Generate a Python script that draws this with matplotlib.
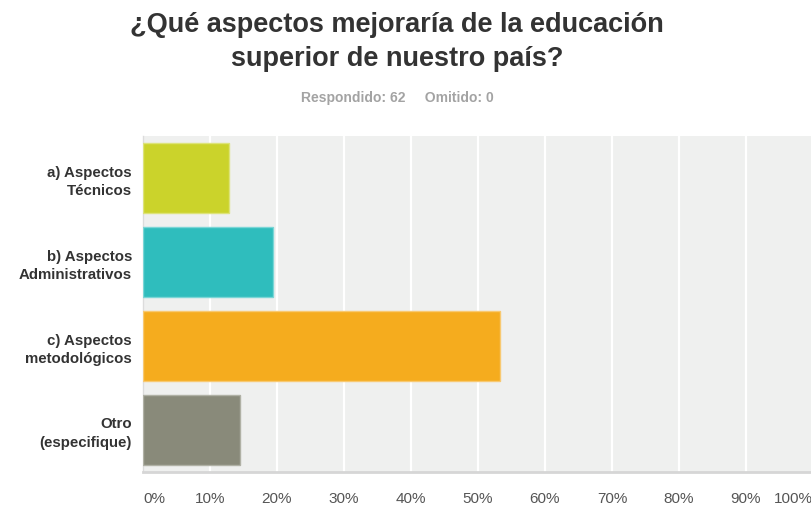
import matplotlib
matplotlib.use("Agg")
import matplotlib.pyplot as plt

categories = ["a) Aspectos\nTécnicos", "b) Aspectos\nAdministrativos",
              "c) Aspectos\nmetodológicos", "Otro\n(especifique)"]
values = [12.90, 19.35, 53.23, 14.52]
colors = ["#cbd32b", "#2fbdbd", "#f5ac1e", "#898a7a"]
edge_colors = ["#dde37a", "#7ad6d6", "#f8c971", "#b0b1a5"]
ticks = [0, 10, 20, 30, 40, 50, 60, 70, 80, 90, 100]
tick_labels = [f"{t}%" for t in ticks]
title = "¿Qué aspectos mejoraría de la educación\nsuperior de nuestro país?"
subtitle = "Respondido: 62     Omitido: 0"

plt.rcParams['font.family'] = ['Liberation Sans', 'DejaVu Sans']

fig = plt.figure(figsize=(8.12, 5.08), dpi=100)
ax = fig.add_axes([143/812, 1-472/508, 670/812, 336/508])
ax.set_facecolor("#eff0ef")

y = list(range(len(categories)))
ax.barh(y, values, height=0.833, color=colors, edgecolor=edge_colors, linewidth=1, zorder=3)
ax.set_xlim(0, 100)
ax.set_ylim(3.5, -0.5)

ax.set_xticks(ticks)
ax.set_xticklabels(tick_labels, fontsize=11, color="#555555")
xl = ax.get_xticklabels()
xl[0].set_horizontalalignment("left")
xl[-1].set_horizontalalignment("right")
ax.set_yticks(y)
ax.set_yticklabels(categories, fontsize=10.8, fontweight="bold", color="#333333",
                   linespacing=1.4)
ax.tick_params(axis="x", length=0, pad=14.5)
ax.tick_params(axis="y", length=0, pad=8)

ax.grid(axis="x", color="white", linewidth=1.6, zorder=1)
ax.set_axisbelow(True)
for s in ["top", "right"]:
    ax.spines[s].set_visible(False)
ax.spines["left"].set_color("#dcdcdc")
ax.spines["left"].set_linewidth(1)
ax.spines["bottom"].set_color("#d6d6d6")
ax.spines["bottom"].set_linewidth(2)

fig.text(397/812, 1-42/508, title, ha="center", va="center", fontsize=19.5,
         fontweight="bold", color="#333333", linespacing=1.35)
fig.text(397/812, 1-98/508, subtitle, ha="center", va="center", fontsize=10,
         fontweight="bold", color="#a3a3a3")

fig.savefig("out.png", dpi=100)
